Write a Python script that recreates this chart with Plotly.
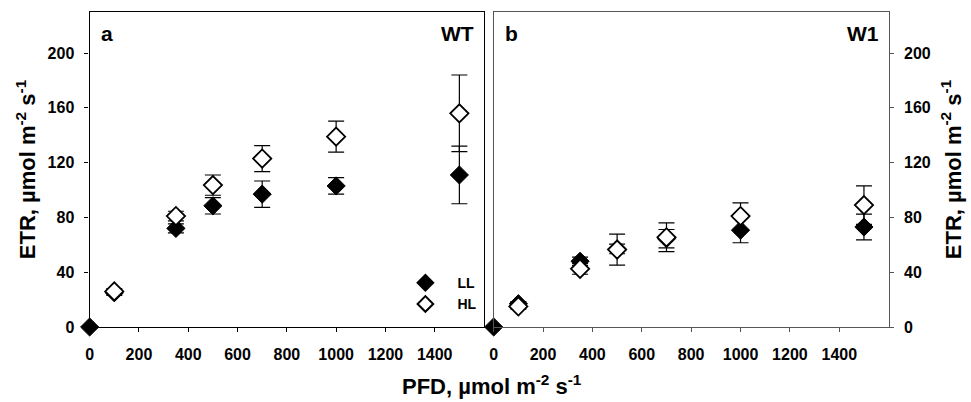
import plotly.graph_objects as go

# ---- data ----
pfd = [0, 100, 350, 500, 700, 1000, 1500]
pfd_hl = [100, 350, 500, 700, 1000, 1500]

wt_ll = [0, 25, 72, 88.5, 97, 103, 111]
wt_ll_err = [0, 2, 3.3, 6, 9.6, 6, 21]
wt_hl = [26, 81, 103.6, 123, 139, 156]
wt_hl_err = [2, 3.5, 7.4, 9.5, 11.3, 28]

w1_ll = [0, 17, 48, 57, 64.5, 70.7, 73]
w1_ll_err = [0, 1.5, 3, 3.5, 6.7, 9.2, 9.4]
w1_hl = [15, 42.5, 56.5, 65.5, 81, 89]
w1_hl_err = [2, 4, 11.3, 10.5, 9.7, 14]

x_ticks = [0, 200, 400, 600, 800, 1000, 1200, 1400]
y_ticks = [0, 40, 80, 120, 160, 200]

FONT = "Liberation Sans, Arial, sans-serif"

fig = go.Figure()

def add_panel(xa, ya, ll, ll_err, hl, hl_err, show_legend):
    fig.add_trace(go.Scatter(
        x=pfd, y=ll, mode="markers", name="LL", xaxis=xa, yaxis=ya,
        marker=dict(symbol="diamond", size=14, color="black",
                    line=dict(color="black", width=1)),
        error_y=dict(type="data", array=ll_err, color="black",
                     thickness=1.2, width=8),
        cliponaxis=False, showlegend=show_legend, legendgroup="LL"))
    fig.add_trace(go.Scatter(
        x=pfd_hl, y=hl, mode="markers", name="HL", xaxis=xa, yaxis=ya,
        marker=dict(symbol="diamond", size=14, color="white",
                    line=dict(color="black", width=1.8)),
        error_y=dict(type="data", array=hl_err, color="black",
                     thickness=1.2, width=8),
        cliponaxis=False, showlegend=show_legend, legendgroup="HL"))

add_panel("x", "y", wt_ll, wt_ll_err, wt_hl, wt_hl_err, True)
add_panel("x2", "y2", w1_ll, w1_ll_err, w1_hl, w1_hl_err, False)

ax_common = dict(range=[0, 1600], tickvals=x_ticks, ticks="outside",
                 ticklen=4, tickwidth=1, showgrid=False, zeroline=False,
                 showline=True, mirror=True, linewidth=1.3,
                 tickfont=dict(size=16, family=FONT, color="black", weight="bold"),
                 ticklabelstandoff=9)
ay_common = dict(range=[0, 230], tickvals=y_ticks, ticks="outside",
                 ticklen=4, tickwidth=1, showgrid=False, zeroline=False,
                 showline=True, mirror=True, linewidth=1.3,
                 tickfont=dict(size=16, family=FONT, color="black", weight="bold"),
                 ticklabelstandoff=7)

title_font = dict(size=22, family=FONT, color="black", weight="bold")
ytitle = "ETR, µmol m<sup>-2</sup> s<sup>-1</sup>"

fig.update_layout(
    width=971, height=402,
    margin=dict(l=0, r=0, t=12, b=75),
    paper_bgcolor="white", plot_bgcolor="white",
    font=dict(family=FONT, color="black", weight="bold"),
    xaxis=dict(domain=[86/971, 482/971], anchor="y",
               linecolor="black", tickcolor="black", **ax_common),
    yaxis=dict(domain=[0, 1], anchor="x", side="left",
               linecolor="black", tickcolor="black",
               title=dict(text=ytitle, font=title_font, standoff=5),
               **ay_common),
    xaxis2=dict(domain=[491.7/971, 888.3/971], anchor="y2",
                linecolor="#555555", tickcolor="#555555", **ax_common),
    yaxis2=dict(domain=[0, 1], anchor="x2", side="right",
                linecolor="#555555", tickcolor="#555555",
                title=dict(text=ytitle, font=title_font, standoff=15),
                **ay_common),
    legend=dict(x=391/971, y=0.19, xanchor="left", yanchor="top",
                bgcolor="rgba(0,0,0,0)", font=dict(size=14, family=FONT, weight="bold"),
                tracegroupgap=0, itemsizing="constant", itemwidth=54),
    annotations=[
        dict(text="a", xref="paper", yref="paper", x=95/971, y=1 - 21/315,
             xanchor="left", yanchor="middle", showarrow=False,
             font=dict(size=21, family=FONT, weight="bold")),
        dict(text="WT", xref="paper", yref="paper", x=474/971, y=1 - 21/315,
             xanchor="right", yanchor="middle", showarrow=False,
             font=dict(size=21, family=FONT, weight="bold")),
        dict(text="b", xref="paper", yref="paper", x=501/971, y=1 - 21/315,
             xanchor="left", yanchor="middle", showarrow=False,
             font=dict(size=21, family=FONT, weight="bold")),
        dict(text="W1", xref="paper", yref="paper", x=881/971, y=1 - 21/315,
             xanchor="right", yanchor="middle", showarrow=False,
             font=dict(size=21, family=FONT, weight="bold")),
        dict(text="PFD, µmol m<sup>-2</sup> s<sup>-1</sup>", xref="paper", yref="paper",
             x=490/971, y=-58/315, xanchor="center", yanchor="middle", showarrow=False,
             font=title_font),
    ],
)

fig.write_html("out.html")
